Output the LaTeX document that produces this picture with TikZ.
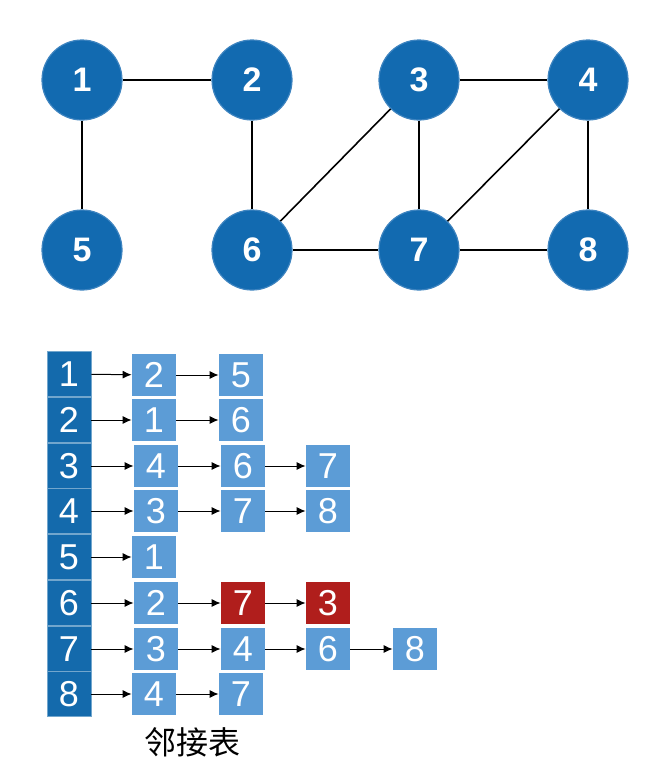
\documentclass[tikz,border=0pt]{standalone}
\usepackage{fontspec}
\setmainfont{Liberation Sans}
\newfontfamily\cjk{Noto Sans CJK SC}
\usetikzlibrary{arrows.meta}
\definecolor{vblue}{RGB}{18,106,176}
\definecolor{vedge}{RGB}{62,132,192}
\definecolor{hblue}{RGB}{20,106,172}
\definecolor{lblue}{RGB}{92,156,214}
\definecolor{lred}{RGB}{176,30,28}
\begin{document}
\begin{tikzpicture}[x=0.5pt,y=0.5pt]
	\tikzstyle{vertex}=[circle,fill=vblue,draw=vedge,line width=0.6pt,minimum size=40pt,inner sep=0pt,text=white,font=\fontsize{17}{17}\selectfont\bfseries]
	\tikzstyle{head}=[rectangle,fill=hblue,draw=hblue!60!white,line width=0.4pt,minimum width=22pt,minimum height=22.8pt,inner sep=0pt,text=white,font=\fontsize{18}{18}\selectfont]
	\tikzstyle{cell}=[rectangle,fill=lblue,minimum width=22pt,minimum height=21pt,inner sep=0pt,text=white,font=\fontsize{18}{18}\selectfont]
	\tikzstyle{hot}=[cell,fill=lred]
	\tikzstyle{link}=[black,line width=0.5pt,-{Latex[length=4.5pt,width=4pt]}]
	\tikzstyle{edge}=[black,line width=0.8pt]
	\useasboundingbox (0,0) rectangle (646,-782);
	% graph
	\node [vertex] (v1) at (82,-80) {1};
	\node [vertex] (v2) at (252,-80) {2};
	\node [vertex] (v3) at (419,-80) {3};
	\node [vertex] (v4) at (588,-80) {4};
	\node [vertex] (v5) at (82,-250) {5};
	\node [vertex] (v6) at (252,-250) {6};
	\node [vertex] (v7) at (419,-250) {7};
	\node [vertex] (v8) at (588,-250) {8};
	\draw [edge] (v1) -- (v2);
	\draw [edge] (v1) -- (v5);
	\draw [edge] (v2) -- (v6);
	\draw [edge] (v3) -- (v4);
	\draw [edge] (v3) -- (v6);
	\draw [edge] (v3) -- (v7);
	\draw [edge] (v4) -- (v7);
	\draw [edge] (v4) -- (v8);
	\draw [edge] (v6) -- (v7);
	\draw [edge] (v7) -- (v8);
	% adjacency list
	\node [head] (h1) at (69,-374) {1};
	\node [head] (h2) at (69,-420) {2};
	\node [head] (h3) at (69,-466) {3};
	\node [head] (h4) at (69,-511) {4};
	\node [head] (h5) at (69,-557) {5};
	\node [head] (h6) at (69,-603) {6};
	\node [head] (h7) at (69,-649) {7};
	\node [head] (h8) at (69,-694) {8};
	\node [cell] (a1) at (154,-375) {2};
	\node [cell] (b1) at (241,-375) {5};
	\node [cell] (a2) at (154,-420) {1};
	\node [cell] (b2) at (241,-420) {6};
	\node [cell] (a3) at (156,-466) {4};
	\node [cell] (b3) at (243,-466) {6};
	\node [cell] (c3) at (328,-466) {7};
	\node [cell] (a4) at (156,-511) {3};
	\node [cell] (b4) at (243,-511) {7};
	\node [cell] (c4) at (328,-511) {8};
	\node [cell] (a5) at (154,-557) {1};
	\node [cell] (a6) at (156,-603) {2};
	\node [hot] (b6) at (243,-603) {7};
	\node [hot] (c6) at (328,-603) {3};
	\node [cell] (a7) at (156,-649) {3};
	\node [cell] (b7) at (243,-649) {4};
	\node [cell] (c7) at (328,-649) {6};
	\node [cell] (d7) at (415,-649) {8};
	\node [cell] (a8) at (154,-694) {4};
	\node [cell] (b8) at (241,-694) {7};
	\draw [link] (h1) -- (a1);
	\draw [link] (a1) -- (b1);
	\draw [link] (h2) -- (a2);
	\draw [link] (a2) -- (b2);
	\draw [link] (h3) -- (a3);
	\draw [link] (a3) -- (b3);
	\draw [link] (b3) -- (c3);
	\draw [link] (h4) -- (a4);
	\draw [link] (a4) -- (b4);
	\draw [link] (b4) -- (c4);
	\draw [link] (h5) -- (a5);
	\draw [link] (h6) -- (a6);
	\draw [link] (a6) -- (b6);
	\draw [link] (b6) -- (c6);
	\draw [link] (h7) -- (a7);
	\draw [link] (a7) -- (b7);
	\draw [link] (b7) -- (c7);
	\draw [link] (c7) -- (d7);
	\draw [link] (h8) -- (a8);
	\draw [link] (a8) -- (b8);
	\node [font=\cjk\fontsize{16}{16}\selectfont] (cap) at (192,-742) {邻接表};
\end{tikzpicture}
\end{document}
